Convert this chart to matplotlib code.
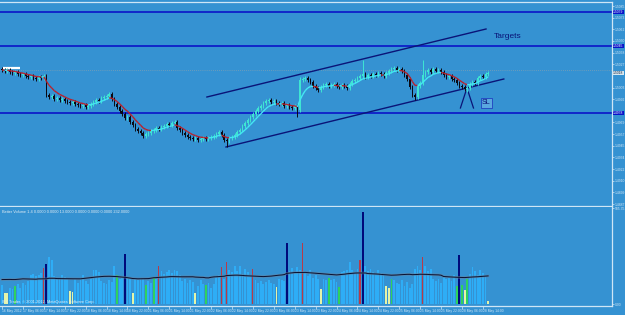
import matplotlib
matplotlib.use("Agg")
import matplotlib.pyplot as plt
from matplotlib.collections import LineCollection
import numpy as np
import pandas as pd

plt.rcParams["font.family"] = ["Liberation Sans", "DejaVu Sans"]

# colours (MT4 style)
BG = "#3592d2"
AXIS = "#cfe6f6"
BULL = "#3ee6d2"
BEAR = "#0a0a14"

# H1 closes, 16 May 22:00 .. 28 May 16:00
closes = [
    1.5021, 1.5020, 1.5021, 1.5019, 1.5018,
    1.5019, 1.5017, 1.5016, 1.5017, 1.5015,
    1.5014, 1.5015, 1.5013, 1.5012, 1.5014, 1.5013, 1.5015,
    1.4996,
    1.4994, 1.4995, 1.4992, 1.4993, 1.4991, 1.4992, 1.4990,
    1.4989, 1.4988, 1.4989, 1.4987, 1.4986, 1.4985, 1.4986,
    1.4984, 1.4985,
    1.4987, 1.4989, 1.4991, 1.4990, 1.4993, 1.4994, 1.4995, 1.4997,
    1.4992,
    1.4987, 1.4984, 1.4980, 1.4977, 1.4973,
    1.4974, 1.4969, 1.4966, 1.4962, 1.4960,
    1.4958, 1.4955, 1.4957,
    1.4958, 1.4960, 1.4961, 1.4963, 1.4962, 1.4964, 1.4965, 1.4967, 1.4966, 1.4968, 1.4969,
    1.4963, 1.4961, 1.4958, 1.4956,
    1.4954, 1.4953, 1.4952, 1.4953, 1.4951, 1.4952,
    1.4953, 1.4952, 1.4953, 1.4954, 1.4955,
    1.4957, 1.4959, 1.4956,
    1.4951, 1.4950,
    1.4953, 1.4954,
    1.4956, 1.4959, 1.4961, 1.4965, 1.4968, 1.4971, 1.4974,
    1.4977, 1.4980, 1.4983, 1.4985, 1.4988, 1.4990,
    1.4991, 1.4989, 1.4990, 1.4988,
    1.4987, 1.4988, 1.4985, 1.4986, 1.4984, 1.4983, 1.4985, 1.4981,
    1.5011,
    1.5012, 1.5013, 1.5011, 1.5009,
    1.5005, 1.5003, 1.5001, 1.5004,
    1.5006, 1.5007, 1.5005, 1.5006,
    1.5007, 1.5005, 1.5004, 1.5006, 1.5005, 1.5003,
    1.5007, 1.5010, 1.5011,
    1.5013, 1.5015, 1.5017, 1.5014,
    1.5016, 1.5015, 1.5017, 1.5016, 1.5018, 1.5017, 1.5015, 1.5018,
    1.5020, 1.5022, 1.5023, 1.5021, 1.5022,
    1.5020, 1.5016, 1.5012,
    1.5004,
    1.4996, 1.4994,
    1.5005, 1.5008,
    1.5016, 1.5019,
    1.5021, 1.5019, 1.5022, 1.5020, 1.5021, 1.5019,
    1.5016, 1.5014, 1.5015, 1.5012,
    1.5011, 1.5008, 1.5005,
    1.5004, 1.5002, 1.5003,
    1.5007, 1.5009, 1.5008,
    1.5013, 1.5015, 1.5014, 1.5017, 1.5018,
]
first_open = 1.5022
spike_highs = {114: 1.5014, 138: 1.5031, 161: 1.5031}
spike_lows = {17: 1.4994, 86: 1.4944, 113: 1.4974, 158: 1.4991, 178: 1.4999}

volumes = [
    115, 65, 70, 95, 90, 110, 120, 100, 130, 115,
    140, 175, 185, 170, 180, 190, 220, 245, 285, 270,
    170, 160, 150, 175, 165, 155, 80, 75, 150, 130,
    160, 175, 140, 125, 150, 205, 210, 195, 140, 130,
    125, 145, 135, 235, 175, 150, 165, 305, 160, 150,
    70, 150, 145, 160, 150, 115, 140, 130, 165, 150,
    230, 200, 185, 195, 205, 190, 210, 200, 180, 140,
    150, 130, 145, 135, 65, 110, 145, 125, 115, 130,
    100, 120, 170, 175, 225, 150, 255, 210, 195, 230,
    200, 235, 185, 215, 195, 180, 215, 145, 130, 140,
    125, 135, 145, 130, 120, 105, 150, 145, 140, 370,
    200, 220, 195, 225, 210, 375, 190, 170, 205, 160,
    180, 150, 90, 150, 145, 160, 145, 150, 135, 105,
    195, 200, 210, 255, 205, 190, 215, 270, 560, 230,
    200, 215, 195, 185, 210, 190, 175, 110, 95, 150,
    145, 130, 120, 145, 110, 135, 100, 120, 215, 235,
    210, 285, 235, 200, 215, 150, 140, 155, 130, 170,
    150, 160, 140, 175, 110, 300, 115, 85, 150, 185,
    225, 200, 180, 205, 190, 170, 18,
]
red_bars = [16, 60, 84, 86, 96, 115, 137, 161]
blue_bars = [17, 47, 109, 138, 175]
green_bars = [5, 44, 55, 58, 78, 125, 129, 149, 174, 176, 178]
pale_bars = [1, 2, 26, 27, 50, 74, 105, 122, 147, 148, 177, 186]

date_labels = [
    "16 May 2012", "17 May 06:00", "17 May 14:00", "17 May 22:00",
    "18 May 06:00", "18 May 14:00", "18 May 22:00", "21 May 06:00",
    "21 May 14:00", "21 May 22:00", "22 May 06:00", "22 May 14:00",
    "22 May 22:00", "23 May 06:00", "23 May 14:00", "23 May 22:00",
    "24 May 06:00", "24 May 14:00", "24 May 22:00", "25 May 06:00",
    "25 May 14:00", "25 May 22:00", "28 May 06:00", "28 May 14:00",
]

# drawn objects
levels = [1.5079, 1.5045, 1.4978]
upper_channel = [(78.4, 1.4994), (185.2, 1.5062)]
lower_channel = [(85.7, 1.4944), (192.0, 1.5012)]
bid_level = 1.5021

n = len(closes)
idx = np.arange(n)
opens = [first_open] + closes[:-1]
highs = [max(o, c) + 0.0002 for o, c in zip(opens, closes)]
lows = [min(o, c) - 0.0002 for o, c in zip(opens, closes)]
for k, v in spike_highs.items():
    highs[k] = v
for k, v in spike_lows.items():
    lows[k] = v

fig = plt.figure(figsize=(6.25, 3.15), dpi=100, facecolor=BG)
ax = fig.add_axes([0, 1 - 206 / 315, 612 / 625, 204 / 315], facecolor=BG)
axv = fig.add_axes([0, 1 - 306 / 315, 612 / 625, 99 / 315], facecolor=BG)

XMIN, XMAX = -0.77, 233.4
FS = 2.4

# ---- price panel
for y in levels:
    ax.axhline(y, color="#0a14c8", lw=1.2, zorder=1)
ax.axhline(bid_level, color="#9aa6a8", lw=0.5, ls=(0, (1, 2)), zorder=1)

for (x0, y0), (x1, y1) in [upper_channel, lower_channel]:
    ax.plot([x0, x1], [y0, y1], color="#0a1478", lw=1.0, zorder=2)

# small white marker at the top left
ax.plot([0.3, 6.9], [1.50225, 1.50225], color="white", lw=1.6, solid_capstyle="butt", zorder=3)

cols = [BULL if c >= o else BEAR for o, c in zip(opens, closes)]
ax.vlines(idx, lows, highs, colors=cols, lw=0.7, zorder=3)
bottoms = [min(o, c) for o, c in zip(opens, closes)]
heights = [max(abs(c - o), 0.00006) for o, c in zip(opens, closes)]
ax.bar(idx, heights, bottom=bottoms, width=0.6, color=cols, lw=0, zorder=4)

ema = pd.Series(closes).ewm(span=7, adjust=False).mean().values
segs = [[(i - 1, ema[i - 1]), (i, ema[i])] for i in range(1, n)]
seg_cols = ["#44e8f4" if ema[i] >= ema[i - 1] else "#b8232e" for i in range(1, n)]
ax.add_collection(LineCollection(segs, colors=seg_cols, lw=1.0, zorder=5))

# target / stop annotations
ax.text(188.2, 1.5054, "Targets", color="#0a1478", fontsize=6, va="center", ha="left")
ax.plot([175.4, 177.4], [1.4983, 1.4999], color="#0a1478", lw=0.9)
ax.plot([178.4, 180.4], [1.4999, 1.4983], color="#0a1478", lw=0.9)
ax.text(185.3, 1.4988, "SL", color="#0a1478", fontsize=5, ha="center", va="center",
        bbox=dict(boxstyle="square,pad=0.15", fc="#5aa8e0", ec="#2040c0", lw=0.6))

ax.set_xlim(XMIN, XMAX)
ax.set_ylim(1.4885, 1.5089)
marked = levels + [closes[-1]]
ticks = [1.5085 - k * 0.001165 for k in range(18)]
ticks = [t for t in ticks if min(abs(t - m) for m in marked) > 0.00045]
ax.yaxis.tick_right()
ax.set_yticks(ticks)
ax.set_yticklabels([f"{t:.4f}" for t in ticks])
ax.tick_params(axis="y", labelsize=FS, colors=AXIS, length=1.5, width=0.5, pad=0.5)
ax.tick_params(axis="x", bottom=False, labelbottom=False)
ax.spines["left"].set_visible(False)
for s in ["top", "right", "bottom"]:
    ax.spines[s].set_color(AXIS)
    ax.spines[s].set_linewidth(0.9)

# highlighted price labels on the scale
for y in levels:
    ax.text(1.0015, y, f"{y:.4f}", transform=ax.get_yaxis_transform(), fontsize=FS,
            color="white", va="center", ha="left",
            bbox=dict(boxstyle="square,pad=0.12", fc="#0a14c8", ec="none"))
ax.text(1.0015, closes[-1], f"{closes[-1]:.4f}", transform=ax.get_yaxis_transform(),
        fontsize=FS, color="#102040", va="center", ha="left",
        bbox=dict(boxstyle="square,pad=0.12", fc="#d8e8f0", ec="none"))

# ---- volume panel
vcols = []
vwidth = []
for i in range(n):
    if i in red_bars:
        vcols.append("#b83a48"); vwidth.append(0.45)
    elif i in blue_bars:
        vcols.append("#000a7a"); vwidth.append(0.75)
    elif i in green_bars:
        vcols.append("#2ed25e"); vwidth.append(0.7)
    elif i in pale_bars:
        vcols.append("#e4f4a8"); vwidth.append(0.7)
    else:
        vcols.append("#2eadf6"); vwidth.append(0.7)
axv.bar(idx, volumes, width=vwidth, color=vcols, lw=0, zorder=2)

vavg = pd.Series(volumes).rolling(60, min_periods=1, center=True).mean().values
axv.plot(idx, vavg, color="#6a8098", lw=1.8, alpha=0.6, zorder=3)
axv.plot(idx, vavg, color="#0a1030", lw=0.7, zorder=4)

axv.set_xlim(XMIN, XMAX)
axv.set_ylim(-12, 592)
axv.yaxis.tick_right()
axv.set_yticks([0, 585.35])
axv.set_yticklabels(["0.00", "585.35"])
axv.tick_params(axis="y", labelsize=FS, colors=AXIS, length=1.5, width=0.5, pad=0.5)
axv.set_xticks(range(0, 8 * len(date_labels), 8))
axv.set_xticklabels(date_labels)
axv.tick_params(axis="x", labelsize=FS, colors=AXIS, length=2, width=0.5, pad=0.5)
for lbl in axv.get_xticklabels():
    lbl.set_ha("left")
axv.spines["left"].set_visible(False)
axv.spines["top"].set_visible(False)
for s in ["right", "bottom"]:
    axv.spines[s].set_color(AXIS)
    axv.spines[s].set_linewidth(0.9)

axv.text(0.004, 0.97, "Better Volume 1.4 0.0000 0.0000 13.0000 0.0000 0.0000 0.0000 232.0000",
         transform=axv.transAxes, fontsize=2.8, color="#e0ecf4", va="top", ha="left")
axv.text(0.004, 0.02, "IFX Trader, \u00a9 2001-2012, MetaQuotes Software Corp.",
         transform=axv.transAxes, fontsize=2.8, color="#e0ecf4", va="bottom", ha="left", zorder=6)

fig.savefig("out.png", dpi=100, facecolor=BG)
